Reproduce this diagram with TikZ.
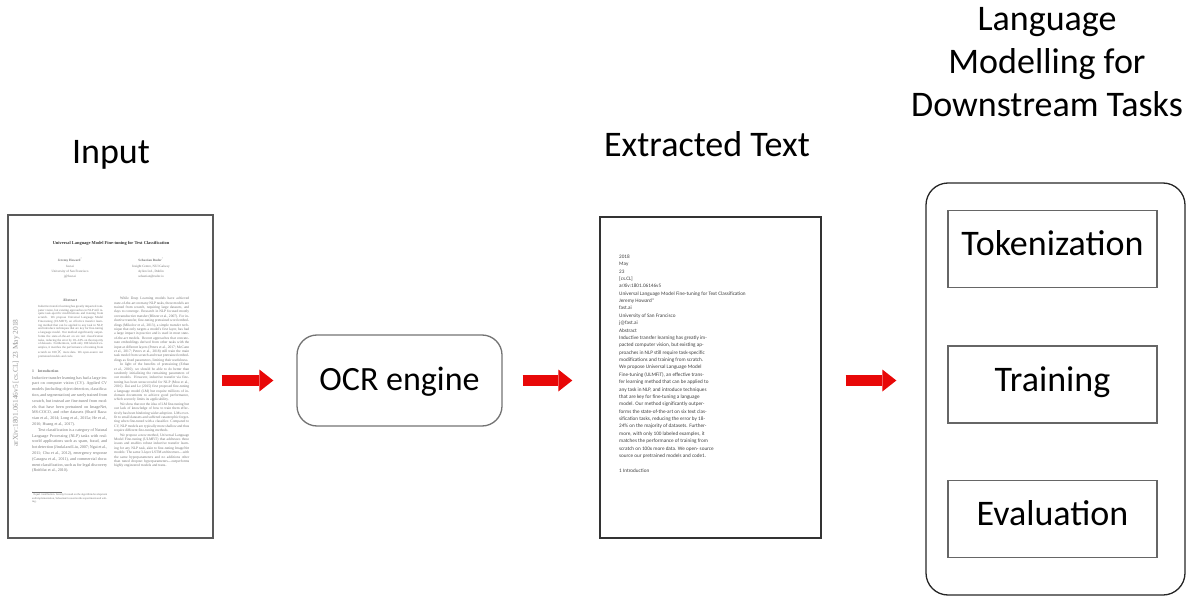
\documentclass[tikz,border=0pt]{standalone}
\usepackage{fontspec}
\setmainfont{Carlito}
\newfontfamily\paperfont{Liberation Serif}
\usetikzlibrary{arrows.meta}

\definecolor{arrowred}{RGB}{232,8,8}
\tolerance=9000

\tikzset{
  heading/.style={font=\fontsize{36}{43}\selectfont, inner sep=0pt},
  page/.style={draw=black!65, line width=1.4pt, inner sep=0pt},
  ocrbox/.style={draw=black!55, line width=1.3pt, rounded corners=20pt, minimum width=205pt, minimum height=91pt,
    text height=25pt, text depth=5pt, font=\fontsize{34}{40}\selectfont},
  lmbox/.style={draw=black!85, line width=1.3pt, rounded corners=22pt, minimum width=259pt, minimum height=412pt},
  stagebox/.style={draw=black!60, line width=1.2pt, minimum width=209pt, minimum height=77pt,
    text height=25pt, text depth=12pt, font=\fontsize{36}{43}\selectfont},
  redarrow/.style={draw=arrowred, line width=11pt, -{Triangle[length=14pt, width=22pt, line width=0pt]}},
  papertext/.style={inner sep=0pt, text=black!55, font=\paperfont\fontsize{3.6}{4.4}\selectfont},
  papercol/.style={papertext, anchor=north west, text width=75pt, align=justify},
  ocrtext/.style={inner sep=0pt, text=black!75, align=left, font=\fontsize{5.2}{7.38}\selectfont},
}

\begin{document}
\begin{tikzpicture}[x=1pt, y=-1pt]
\useasboundingbox (0,0) rectangle (1195,599);

% headings
\node[heading, anchor=base] (inlabel) at (111,164) {Input};
\node[heading, anchor=base] (extlabel) at (707,157) {Extracted Text};
\node[heading, anchor=base, align=center] (lmlabel) at (1047,117) {Language\\Modelling for\\Downstream Tasks};

% input: the scanned paper
\node[page, minimum width=205pt, minimum height=323pt] (inpage) at (110.5,376.5) {};
\node[papertext, rotate=90, text=black!40, font=\paperfont\fontsize{7.4}{8}\selectfont] (stamp) at (16,383) {arXiv:1801.06146v5 [cs.CL] 23 May 2018};
\node[papertext, text=black!80, font=\paperfont\bfseries\fontsize{4.4}{5}\selectfont] (ptitle) at (111,243) {Universal Language Model Fine-tuning for Text Classification};
\node[papertext, anchor=north, align=center, font=\paperfont\fontsize{3.3}{5.3}\selectfont] (pauth1) at (70,258) {\textbf{Jeremy Howard}\textsuperscript{*}\\fast.ai\\University of San Francisco\\j@fast.ai};
\node[papertext, anchor=north, align=center, font=\paperfont\fontsize{3.3}{5.3}\selectfont] (pauth2) at (151,258) {\textbf{Sebastian Ruder}\textsuperscript{*}\\Insight Centre, NUI Galway\\Aylien Ltd., Dublin\\sebastian@ruder.io};
\node[papertext, font=\paperfont\bfseries\fontsize{3.8}{4.4}\selectfont] (pabs) at (70,300) {Abstract};
\node[papercol, text width=65pt, font=\paperfont\fontsize{3.1}{3.75}\selectfont] (pabstext) at (38,305) {Inductive transfer learning has greatly impacted computer vision, but existing approaches in NLP still require task-specific modifications and training from scratch. We propose Universal Language Model Fine-tuning (ULMFiT), an effective transfer learning method that can be applied to any task in NLP, and introduce techniques that are key for fine-tuning a language model. Our method significantly outperforms the state-of-the-art on six text classification tasks, reducing the error by 18--24\% on the majority of datasets. Furthermore, with only 100 labeled examples, it matches the performance of training from scratch on 100$\times$ more data. We open-source our pretrained models and code.};
\node[papertext, anchor=base west, font=\paperfont\bfseries\fontsize{3.8}{4.4}\selectfont] (pintro) at (32,372) {1\quad Introduction};
\node[papercol, font=\paperfont\fontsize{4.1}{5.8}\selectfont] (pleft) at (32,376) {Inductive transfer learning has had a large impact on computer vision (CV). Applied CV models (including object detection, classification, and segmentation) are rarely trained from scratch, but instead are fine-tuned from models that have been pretrained on ImageNet, MS-COCO, and other datasets (Sharif Razavian et al., 2014; Long et al., 2015a; He et al., 2016; Huang et al., 2017).

\hspace*{6pt}Text classification is a category of Natural Language Processing (NLP) tasks with real-world applications such as spam, fraud, and bot detection (Jindal and Liu, 2007; Ngai et al., 2011; Chu et al., 2012), emergency response (Caragea et al., 2011), and commercial document classification, such as for legal discovery (Roitblat et al., 2010).};
\node[papercol, font=\paperfont\fontsize{2.8}{3.4}\selectfont] (pfoot) at (32,492) {\rule{30pt}{0.2pt}\\\textsuperscript{*}Equal contribution. Jeremy focused on the algorithm development and implementation, Sebastian focused on the experiments and writing.};
\node[papercol] (pright) at (114,297) {\hspace*{6pt}While Deep Learning models have achieved state-of-the-art on many NLP tasks, these models are trained from scratch, requiring large datasets, and days to converge. Research in NLP focused mostly on transductive transfer (Blitzer et al., 2007). For inductive transfer, fine-tuning pretrained word embeddings (Mikolov et al., 2013), a simple transfer technique that only targets a model's first layer, has had a large impact in practice and is used in most state-of-the-art models. Recent approaches that concatenate embeddings derived from other tasks with the input at different layers (Peters et al., 2017; McCann et al., 2017; Peters et al., 2018) still train the main task model from scratch and treat pretrained embeddings as fixed parameters, limiting their usefulness.

\hspace*{6pt}In light of the benefits of pretraining (Erhan et al., 2010), we should be able to do better than randomly initializing the remaining parameters of our models. However, inductive transfer via fine-tuning has been unsuccessful for NLP (Mou et al., 2016). Dai and Le (2015) first proposed fine-tuning a language model (LM) but require millions of in-domain documents to achieve good performance, which severely limits its applicability.

\hspace*{6pt}We show that not the idea of LM fine-tuning but our lack of knowledge of how to train them effectively has been hindering wider adoption. LMs overfit to small datasets and suffered catastrophic forgetting when fine-tuned with a classifier. Compared to CV, NLP models are typically more shallow and thus require different fine-tuning methods.

\hspace*{6pt}We propose a new method, Universal Language Model Fine-tuning (ULMFiT) that addresses these issues and enables robust inductive transfer learning for any NLP task, akin to fine-tuning ImageNet models: The same 3-layer LSTM architecture---with the same hyperparameters and no additions other than tuned dropout hyperparameters---outperforms highly engineered models and trans-};

% OCR step
\node[ocrbox] (ocr) at (399.5,380.5) {OCR engine};

% extracted text page
\node[page, draw=black!80, minimum width=221pt, minimum height=321pt] (extpage) at (710.5,377.5) {};
\node[ocrtext, anchor=north west] (exttext) at (619,254.5) {2018\\May\\23\\{[cs.CL]}\\arXiv:1801.06146v5\\
Universal Language Model Fine-tuning for Text Classification\\Jeremy Howard*\\fast.ai\\University of San Francisco\\j@fast.ai\\Abstract\\
Inductive transfer learning has greatly im-\\pacted computer vision, but existing ap-\\proaches in NLP still require task-specific\\
modifications and training from scratch.\\We propose Universal Language Model\\Fine-tuning (ULMFiT), an effective trans-\\
fer learning method that can be applied to\\any task in NLP, and introduce techniques\\that are key for fine-tuning a language\\
model. Our method significantly outper-\\forms the state-of-the-art on six text clas-\\sification tasks, reducing the error by 18-\\
24\% on the majority of datasets. Further-\\more, with only 100 labeled examples, it\\matches the performance of training from\\
scratch on 100x more data. We open- source\\source our pretrained models and code1.\\[7.38pt]1 Introduction};

% language modelling block
\node[lmbox] (lmbox) at (1055.5,389) {};
\node[stagebox] (tok) at (1052.5,249) {Tokenization};
\node[stagebox] (train) at (1052.5,384.5) {Training};
\node[stagebox] (eval) at (1052.5,519) {Evaluation};

\draw[redarrow, shorten <=8pt, shorten >=23pt] (inpage.east |- ocr.west) -- (ocr.west);
\draw[redarrow, shorten <=20pt, shorten >=27pt] (ocr.east) -- (extpage.west |- ocr.east);
\draw[redarrow, shorten <=24pt, shorten >=29pt] (extpage.east |- ocr.east) -- (lmbox.west |- ocr.east);
\end{tikzpicture}
\end{document}
